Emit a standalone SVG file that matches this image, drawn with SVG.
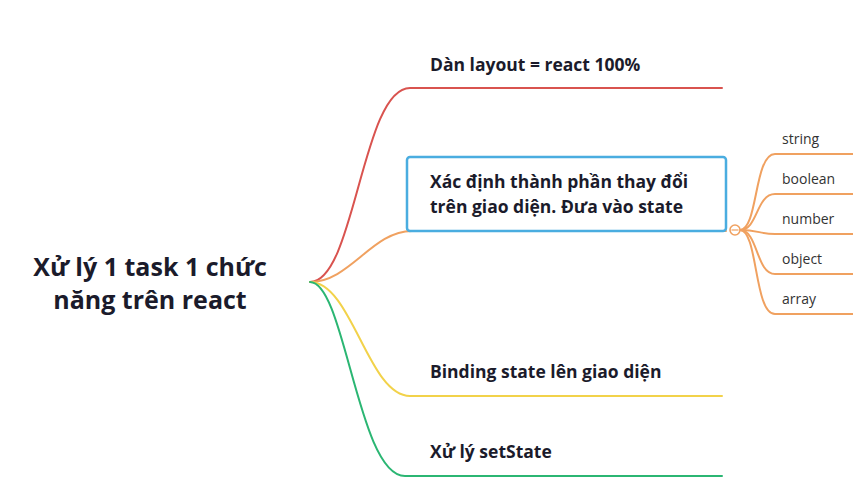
<svg xmlns="http://www.w3.org/2000/svg" width="853" height="486" viewBox="0 0 853 486">
<style>
.t{font-family:"Open Sans","Noto Sans","DejaVu Sans",sans-serif;fill:#1b1b2b}
.main{font-size:17.5px;font-weight:700}
.root{font-size:25px;font-weight:700}
.sub{font-size:14px;font-weight:400;fill:#333}
.c{fill:none;stroke-width:2;stroke-linecap:round}
</style>
<rect width="853" height="486" fill="#ffffff"/>
<g id="connectors">
<path class="c" stroke="#d9534f" d="M310,282 C355,282 362,88 410,88 L722,88"/>
<path class="c" stroke="#f0a160" d="M310,282 C350,282 372,231 412,231 L726,231"/>
<path class="c" stroke="#f2d24a" d="M310,282 C352,282 368,396 410,396 L722,396"/>
<path class="c" stroke="#2bb673" d="M310,282 C345,282 358,476 405,476 L722,476"/>
<g stroke="#f0a160" class="c" stroke-width="1.6">
<path d="M740,230 C758,230 754,154 775,154 L853,154"/>
<path d="M740,230 C758,230 756,194 775,194 L853,194"/>
<path d="M740,230 C758,230 760,234 775,234 L853,234"/>
<path d="M740,230 C758,230 756,274 775,274 L853,274"/>
<path d="M740,230 C758,230 754,314 775,314 L853,314"/>
</g>
<circle cx="735" cy="230" r="5" fill="#fff" stroke="#f0a160" stroke-width="1.6"/>
<line x1="731.5" y1="230" x2="738.5" y2="230" stroke="#f0a160" stroke-width="1.2"/>
</g>
<g id="root"><text class="t root" x="150" y="276" text-anchor="middle">Xử lý 1 task 1 chức</text><text class="t root" x="150" y="309" text-anchor="middle">năng trên react</text></g>
<g id="n1"><text class="t main" x="430" y="71">Dàn layout = react 100%</text></g>
<g id="n2"><rect x="407" y="157" width="319" height="74" rx="3" fill="#fff" stroke="#4aade0" stroke-width="2.5"/><text class="t main" x="430" y="188">Xác định thành phần thay đổi</text><text class="t main" x="430" y="213">trên giao diện. Đưa vào state</text></g>
<g id="n3"><text class="t main" x="430" y="378">Binding state lên giao diện</text></g>
<g id="n4"><text class="t main" x="430" y="458">Xử lý setState</text></g>
<g id="s1"><text class="t sub" x="782" y="144">string</text></g>
<g id="s2"><text class="t sub" x="782" y="184">boolean</text></g>
<g id="s3"><text class="t sub" x="782" y="224">number</text></g>
<g id="s4"><text class="t sub" x="782" y="264">object</text></g>
<g id="s5"><text class="t sub" x="782" y="304">array</text></g>
</svg>
